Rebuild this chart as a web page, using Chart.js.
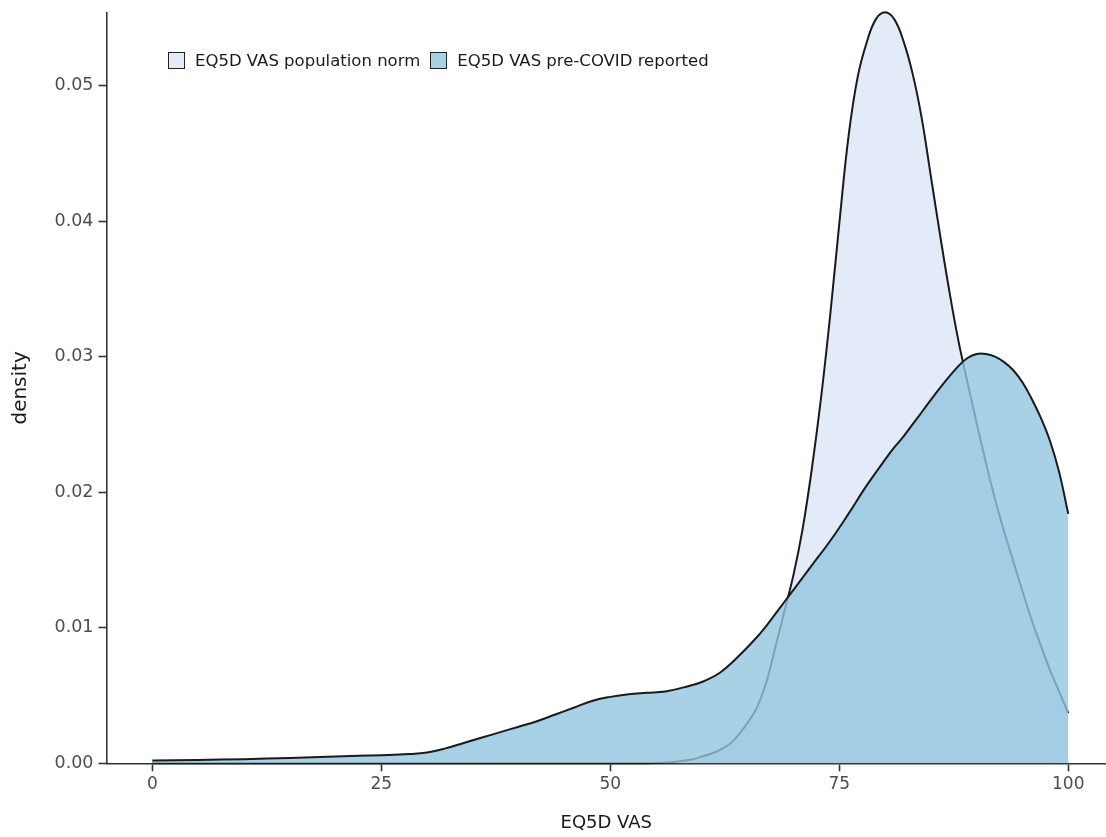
<!DOCTYPE html>
<html>
<head>
<meta charset="utf-8">
<script src="https://cdn.jsdelivr.net/npm/chart.js@4.4.1/dist/chart.umd.min.js"></script>
<style>
  html, body { margin: 0; padding: 0; background: #ffffff; }
  #wrap { position: relative; width: 1106px; height: 837px; }
  #legend { position: absolute; left: 168px; top: 51px; display: flex; align-items: center;
            font-family: "DejaVu Sans", sans-serif; font-size: 16.5px; color: #1a1a1a; }
  .item { display: flex; align-items: center; margin-right: 10px; }
  .swatch { width: 15px; height: 15px; border: 1.6px solid #222; margin-right: 10px; }
</style>
</head>
<body>
<div id="wrap">
  <canvas id="chart" width="1106" height="837"></canvas>
  <div id="legend"></div>
</div>
<script>
// Kernel density of EQ5D VAS: population norm
const normX = [0, 50, 55, 57, 59, 60, 61, 62, 63, 64, 65, 66, 67, 68, 69, 70, 71, 72, 73, 74, 75,
  76, 77, 78, 79, 80, 81, 82, 83, 84, 85, 86, 87, 88, 89, 90, 91, 92, 93, 94, 95, 96, 97, 98, 99, 100];
const normDensity = [0, 0, 0.00003, 0.0001, 0.0003, 0.0005, 0.0007, 0.0010, 0.0014, 0.0021, 0.0030,
  0.0041, 0.0059, 0.0085, 0.0112, 0.0139, 0.0173, 0.0217, 0.0269, 0.0330, 0.0398,
  0.0462, 0.0506, 0.0532, 0.0549, 0.0554, 0.0549, 0.0533, 0.0509, 0.0476, 0.0433, 0.0390,
  0.0349, 0.0312, 0.0281, 0.0251, 0.0222, 0.0195, 0.0171, 0.0149, 0.0127, 0.0106, 0.0087,
  0.0069, 0.0053, 0.0037];

// Kernel density of EQ5D VAS: pre-COVID reported
const reportedX = [0, 5, 10, 15, 20, 25, 28, 30, 32, 34, 36, 38, 40, 42, 44, 46, 48, 50, 52, 54,
  56, 58, 60, 62, 64, 66, 67, 68, 69, 70, 72, 74, 76, 78, 80, 81, 82, 83, 84, 86, 88, 89, 90, 91,
  92, 93, 94, 95, 96, 97, 98, 99, 100];
const reportedDensity = [0.0002, 0.00025, 0.0003, 0.0004, 0.0005, 0.0006, 0.00068, 0.0008, 0.0011,
  0.0015, 0.0019, 0.0023, 0.0027, 0.0031, 0.0036, 0.0041, 0.0046, 0.0049, 0.0051, 0.0052,
  0.0053, 0.0056, 0.0060, 0.0067, 0.0079, 0.0093, 0.0101, 0.0110, 0.0119, 0.0128, 0.0146,
  0.0164, 0.0184, 0.0205, 0.0224, 0.0233, 0.0241, 0.0250, 0.0259, 0.0277, 0.0293, 0.0299,
  0.0302, 0.0302, 0.0300, 0.0296, 0.0290, 0.0281, 0.0269, 0.0255, 0.0238, 0.0215, 0.0184];

const seriesLabels = ['EQ5D VAS population norm', 'EQ5D VAS pre-COVID reported'];
const xTickValues = [0, 25, 50, 75, 100];
const yTickValues = [0, 0.01, 0.02, 0.03, 0.04, 0.05];

const toPoints = (xs, ys) => xs.map((x, i) => ({ x: x, y: ys[i] }));

const fills = ['rgb(226,235,247)', 'rgba(148,198,222,0.8)'];
const outline = '#1a1a1a';
const tickGrey = '#4d4d4d';

const chart = new Chart(document.getElementById('chart'), {
  type: 'line',
  data: {
    datasets: [
      {
        label: seriesLabels[0],
        data: toPoints(normX, normDensity),
        backgroundColor: fills[0],
        borderColor: outline,
        borderWidth: 2,
        fill: 'origin',
        order: 1,
        clip: false
      },
      {
        label: seriesLabels[1],
        data: toPoints(reportedX, reportedDensity),
        backgroundColor: fills[1],
        borderColor: outline,
        borderWidth: 2,
        fill: 'origin',
        order: 0,
        clip: false
      }
    ]
  },
  options: {
    responsive: false,
    animation: false,
    layout: { padding: { top: 12.5, right: 0, bottom: 0, left: 0 } },
    elements: {
      point: { radius: 0, hoverRadius: 0 },
      line: { tension: 0.4, capBezierPoints: true }
    },
    plugins: {
      legend: { display: false },
      tooltip: { enabled: false }
    },
    scales: {
      x: {
        type: 'linear',
        min: -5,
        max: 104.12,
        afterBuildTicks: (axis) => { axis.ticks = xTickValues.map(v => ({ value: v })); },
        afterFit: (axis) => { axis.height = 73.7; axis.paddingRight = 0; axis.paddingLeft = 0; },
        ticks: {
          callback: (v) => String(v),
          color: tickGrey,
          font: { family: 'DejaVu Sans', size: 17 },
          padding: 3,
          maxRotation: 0
        },
        grid: { display: true, drawOnChartArea: false, drawTicks: true, tickLength: 8,
                tickColor: '#333333', tickWidth: 1.6 },
        border: { display: true, color: '#333333', width: 1.6 },
        title: {
          display: true,
          text: 'EQ5D VAS',
          color: '#1a1a1a',
          font: { family: 'DejaVu Sans', size: 18 },
          padding: { top: 0, bottom: 3 }
        }
      },
      y: {
        type: 'linear',
        min: 0,
        max: 0.05539,
        afterBuildTicks: (axis) => { axis.ticks = yTickValues.map(v => ({ value: v })); },
        afterFit: (axis) => { axis.width = 106.5; axis.paddingTop = 0; axis.paddingBottom = 0; },
        ticks: {
          callback: (v) => Number(v).toFixed(2),
          color: tickGrey,
          font: { family: 'DejaVu Sans', size: 17.5 },
          padding: 5
        },
        grid: { display: true, drawOnChartArea: false, drawTicks: true, tickLength: 8,
                tickColor: '#333333', tickWidth: 1.6 },
        border: { display: true, color: '#333333', width: 1.6 },
        title: {
          display: true,
          text: 'density',
          color: '#1a1a1a',
          font: { family: 'DejaVu Sans', size: 20 },
          padding: { top: 9, bottom: 0 }
        }
      }
    }
  }
});

// Legend built from the chart's datasets
const legendEl = document.getElementById('legend');
chart.data.datasets.forEach((ds) => {
  const item = document.createElement('div');
  item.className = 'item';
  const sw = document.createElement('span');
  sw.className = 'swatch';
  sw.style.background = ds.backgroundColor;
  const txt = document.createElement('span');
  txt.textContent = ds.label;
  item.appendChild(sw);
  item.appendChild(txt);
  legendEl.appendChild(item);
});
</script>
</body>
</html>
